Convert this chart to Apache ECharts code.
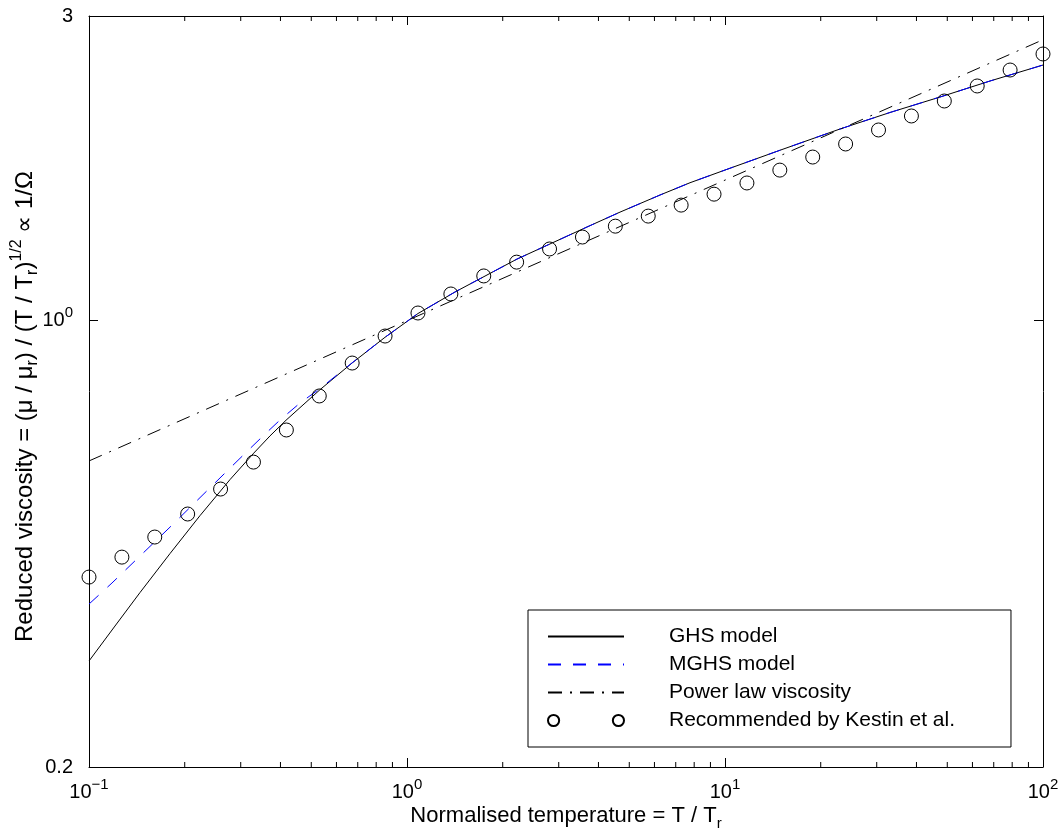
<!DOCTYPE html>
<html>
<head>
<meta charset="utf-8">
<script src="https://cdn.jsdelivr.net/npm/echarts@6/dist/echarts.min.js"></script>
<style>
  html, body { margin: 0; padding: 0; background: #fff; }
  #chart { width: 1062px; height: 839px; }
</style>
</head>
<body>
<div id="chart"></div>
<script>
// reduced viscosity vs normalised temperature (log-log)

// Kestin et al. recommended values
const kestinT = [0.1, 0.1269, 0.1610, 0.2043, 0.2593, 0.3290, 0.4175, 0.5298, 0.6723, 0.8532,
  1.0826, 1.3738, 1.7433, 2.2122, 2.8072, 3.5622, 4.5204, 5.7362, 7.2790, 9.2367,
  11.721, 14.874, 18.874, 23.950, 30.392, 38.566, 48.939, 62.102, 78.805, 100];
const kestinMu = [0.3967, 0.4263, 0.4583, 0.4980, 0.5449, 0.6005, 0.6742, 0.7622, 0.8583, 0.9461,
  1.028, 1.101, 1.175, 1.235, 1.295, 1.352, 1.406, 1.458, 1.517, 1.578,
  1.643, 1.721, 1.804, 1.891, 1.989, 2.092, 2.208, 2.331, 2.469, 2.616];

// GHS model
const ghsT = [0.1, 0.1207, 0.1447, 0.1798, 0.2234, 0.2776, 0.328, 0.3709, 0.4165, 0.5326,
  0.6717, 0.8526, 1.0829, 1.4155, 2.218, 3.6813, 4.6753, 6.246, 7.762, 10,
  14.893, 22.995, 33.02, 47.45, 68.13, 100];
const ghsMu = [0.2931, 0.3325, 0.3752, 0.4318, 0.4951, 0.5638, 0.6186, 0.6600, 0.6984, 0.7797,
  0.8583, 0.9417, 1.0261, 1.1089, 1.2488, 1.4018, 1.4790, 1.5731, 1.6444, 1.7214,
  1.8488, 1.9959, 2.1184, 2.2399, 2.3731, 2.5139];

// MGHS model
const mghsT = [0.1, 0.1181, 0.1447, 0.1798, 0.2234, 0.2776, 0.3208, 0.3576, 0.3987, 0.4609,
  0.5326, 0.6717, 0.8526, 1.0829, 1.4155, 2.218, 3.6813, 4.6753, 6.246, 7.762,
  10, 14.893, 22.995, 33.02, 47.45, 68.13, 100];
const mghsMu = [0.3599, 0.3883, 0.4280, 0.4750, 0.5283, 0.5876, 0.6305, 0.6643, 0.6989, 0.7431,
  0.7828, 0.8588, 0.9417, 1.0261, 1.1089, 1.2488, 1.4018, 1.4790, 1.5731, 1.6444,
  1.7214, 1.8488, 1.9959, 2.1184, 2.2399, 2.3731, 2.5139];

// power law viscosity
const powerT = [0.1, 1, 10, 100];
const powerMu = [0.603, 1.0, 1.66, 2.754];

// axis ranges / minor ticks on the temperature axis
const X_MIN = 0.1, X_MAX = 100;
const Y_MIN = 0.2, Y_MAX = 3;
const xMinorTicks = [0.2, 0.3, 0.4, 0.5, 0.6, 0.7, 0.8, 0.9, 2, 3, 4, 5, 6, 7, 8, 9,
  20, 30, 40, 50, 60, 70, 80, 90];

const FONT = 'Liberation Sans, Arial, Helvetica, sans-serif';
const MAJOR_LEN = 9;
const MINOR_LEN = 5;

const pairs = (xs, ys) => xs.map((x, i) => [x, ys[i]]);

const tickRich = {
  b: { fontFamily: FONT, fontSize: 20, color: '#000', lineHeight: 30, verticalAlign: 'middle' },
  sup: { fontFamily: FONT, fontSize: 15, color: '#000', lineHeight: 14, verticalAlign: 'top' }
};
const xNameRich = {
  b: { fontFamily: FONT, fontSize: 22, color: '#000', lineHeight: 30, verticalAlign: 'middle' },
  sub: { fontFamily: FONT, fontSize: 15, color: '#000', lineHeight: 14, verticalAlign: 'bottom' }
};
const yNameRich = {
  b: { fontFamily: FONT, fontSize: 24, color: '#000', lineHeight: 32, verticalAlign: 'middle' },
  sup: { fontFamily: FONT, fontSize: 16, color: '#000', lineHeight: 15, verticalAlign: 'top' },
  sub: { fontFamily: FONT, fontSize: 16, color: '#000', lineHeight: 15, verticalAlign: 'bottom' }
};

const axisLine = { show: true, onZero: false, lineStyle: { color: '#000', width: 1 } };
const majorTick = { show: true, inside: true, length: MAJOR_LEN, lineStyle: { color: '#000', width: 1 } };

function powLabel(v) {
  const e = Math.round(Math.log10(v));
  return '{b|10}{sup|' + (e < 0 ? '\u2212' + (-e) : e) + '}';
}

function yLabel(v) {
  const r = Math.round(v * 100) / 100;
  if (r === 1) return '{b|10}{sup|0}';
  return '{b|' + r + '}';
}

function renderMinorTick(params, api) {
  const v = api.value(0);
  const b = api.coord([v, Y_MIN]);
  const t = api.coord([v, Y_MAX]);
  const st = { stroke: '#000', lineWidth: 1 };
  return {
    type: 'group',
    children: [
      { type: 'line', shape: { x1: b[0], y1: b[1], x2: b[0], y2: b[1] - MINOR_LEN }, style: st },
      { type: 'line', shape: { x1: t[0], y1: t[1], x2: t[0], y2: t[1] + MINOR_LEN }, style: st }
    ]
  };
}

const chart = echarts.init(document.getElementById('chart'), null, { renderer: 'canvas' });

const hideDot = { opacity: 0 };

chart.setOption({
  animation: false,
  backgroundColor: '#fff',
  grid: { left: 89, right: 19, top: 16, bottom: 72, containLabel: false, outerBoundsMode: 'none' },
  xAxis: [
    {
      type: 'log', logBase: 10, min: X_MIN, max: X_MAX, position: 'bottom',
      axisLine, axisTick: majorTick, splitLine: { show: false },
      axisLabel: { margin: 10, formatter: powLabel, rich: tickRich },
      name: '{b|Normalised temperature = T / T}{sub|r}',
      nameLocation: 'middle', nameGap: 34, nameMoveOverlap: false,
      nameTextStyle: { rich: xNameRich }
    },
    {
      type: 'log', logBase: 10, min: X_MIN, max: X_MAX, position: 'top',
      axisLine, axisTick: majorTick, axisLabel: { show: false }, splitLine: { show: false }
    }
  ],
  yAxis: [
    {
      type: 'log', logBase: 10, min: Y_MIN, max: Y_MAX, position: 'left',
      axisLine, axisTick: majorTick, splitLine: { show: false },
      axisLabel: { margin: 16, formatter: yLabel, rich: tickRich },
      name: '{b|Reduced viscosity = (\u03bc / \u03bc}{sub|r}{b|) / (T / T}{sub|r}{b|)}{sup|1/2}{b| \u221d 1/\u03a9}',
      nameLocation: 'middle', nameGap: 48, nameRotate: 90, nameMoveOverlap: false,
      nameTextStyle: { rich: yNameRich, padding: [0, 30, 0, 0] }
    },
    {
      type: 'log', logBase: 10, min: Y_MIN, max: Y_MAX, position: 'right',
      axisLine, axisTick: majorTick, axisLabel: { show: false }, splitLine: { show: false }
    }
  ],
  legend: {
    orient: 'vertical',
    left: 528, top: 610,
    padding: [16, 56, 16, 19],
    itemGap: 7,
    itemWidth: 76, itemHeight: 12,
    backgroundColor: '#fff',
    borderColor: '#000', borderWidth: 1,
    textStyle: { fontFamily: FONT, fontSize: 21, color: '#000', padding: [0, 0, 0, 40] },
    selectedMode: false,
    data: [
      { name: 'GHS model', itemStyle: hideDot },
      { name: 'MGHS model', itemStyle: hideDot },
      { name: 'Power law viscosity', itemStyle: hideDot },
      {
        name: 'Recommended by Kestin et al.',
        icon: 'path://M0.5,6a5.5,5.5 0 1,0 11,0a5.5,5.5 0 1,0 -11,0M64.5,6a5.5,5.5 0 1,0 11,0a5.5,5.5 0 1,0 -11,0'
      }
    ]
  },
  series: [
    {
      name: 'GHS model', type: 'line', symbol: 'none', data: pairs(ghsT, ghsMu),
      lineStyle: { color: '#000', width: 1 }, itemStyle: { color: '#000' }, z: 2
    },
    {
      name: 'MGHS model', type: 'line', symbol: 'none', data: pairs(mghsT, mghsMu),
      lineStyle: { color: '#0000ff', width: 1, type: [13, 12] }, itemStyle: { color: '#0000ff' }, z: 3
    },
    {
      name: 'Power law viscosity', type: 'line', symbol: 'none', data: pairs(powerT, powerMu),
      lineStyle: { color: '#000', width: 1, type: [14, 8, 2, 8] }, itemStyle: { color: '#000' }, z: 3
    },
    {
      name: 'Recommended by Kestin et al.', type: 'scatter', symbol: 'circle', symbolSize: 14,
      data: pairs(kestinT, kestinMu), clip: false,
      itemStyle: { color: 'rgba(0,0,0,0)', borderColor: '#000', borderWidth: 1, opacity: 1 }, z: 4
    },
    {
      type: 'custom', silent: true, data: xMinorTicks.map(v => [v, Y_MIN]),
      encode: { x: 0, y: 1 }, renderItem: renderMinorTick, clip: false, z: 5
    }
  ]
});
</script>
</body>
</html>
